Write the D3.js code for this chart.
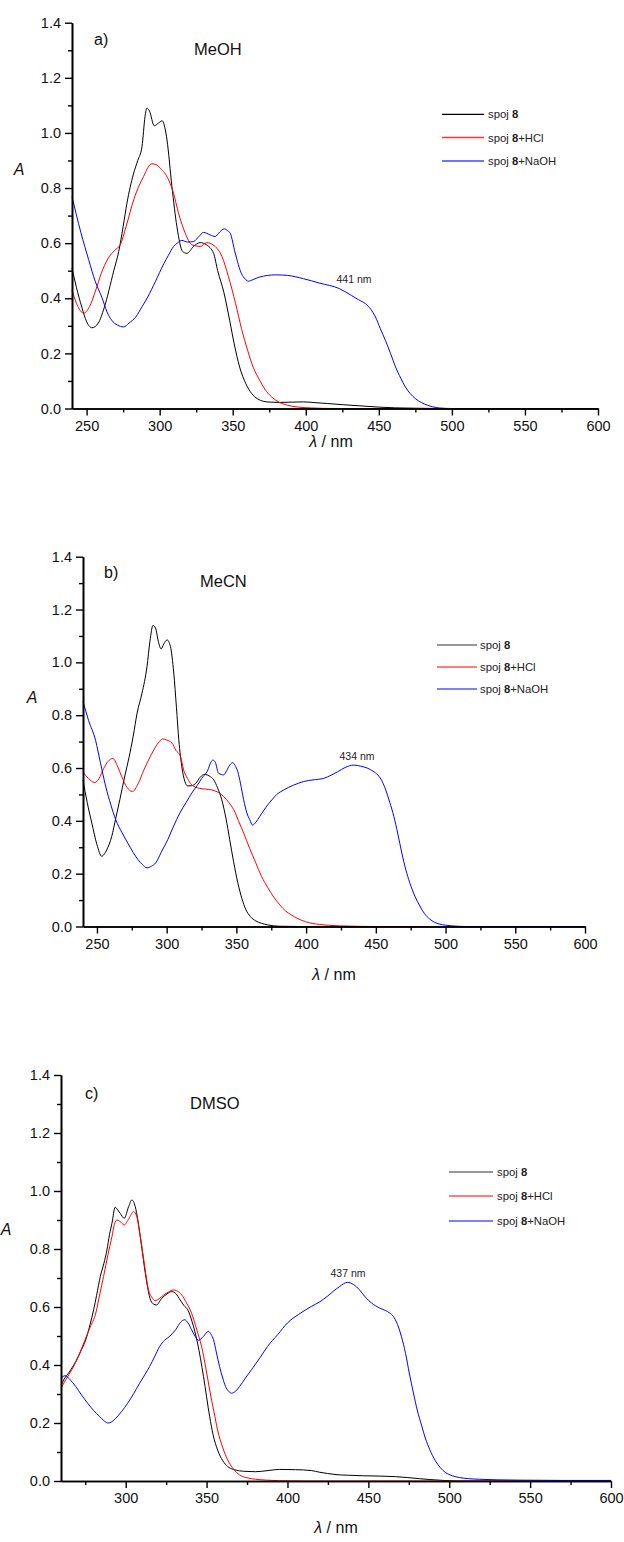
<!DOCTYPE html>
<html>
<head>
<meta charset="utf-8">
<script src="https://cdn.jsdelivr.net/npm/d3@7"></script>
<style>
  body { margin: 0; background: #fff; }
  svg { display: block; font-family: "Liberation Sans", Arial, sans-serif; }
</style>
</head>
<body>
<svg id="chart" width="624" height="1542"></svg>
<script>
// ---------- DATA ----------
const seriesNames = ["spoj 8", "spoj 8+HCl", "spoj 8+NaOH"];
const panelLetters = ["a)", "b)", "c)"];
const solvents = ["MeOH", "MeCN", "DMSO"];
const peakLabels = ["441 nm", "434 nm", "437 nm"];
const xTicksAB = [250, 300, 350, 400, 450, 500, 550, 600];
const xTicksC = [300, 350, 400, 450, 500, 550, 600];
const yTicks = [0.0, 0.2, 0.4, 0.6, 0.8, 1.0, 1.2, 1.4];

// a) MeOH  [wavelength nm, absorbance]
const meohNeutral = [[240,0.51],[243,0.44],[246.7,0.368],[250,0.315],[253.7,0.293],[258,0.31],[262,0.365],[268.6,0.5],[272,0.57],[275,0.66],[277.6,0.745],[282,0.85],[285,0.9],[287.9,0.95],[290,1.06],[291.3,1.09],[293,1.08],[296.3,1.026],[299,1.035],[301.8,1.044],[303.5,1.02],[305,0.975],[308.4,0.805],[311.8,0.66],[315.7,0.57],[318.6,0.563],[323.2,0.588],[327.7,0.602],[332,0.594],[336.9,0.563],[339.7,0.5],[344,0.42],[347.9,0.32],[351,0.235],[354.7,0.151],[359,0.09],[363,0.054],[367,0.035],[371,0.026],[376,0.023],[382,0.022],[390,0.023],[398.5,0.024],[407,0.021],[415,0.018],[425,0.014],[437,0.0097],[450,0.005],[461,0.0024],[475,0.001],[490,0],[600,0]];
const meohHCl = [[240,0.429],[244,0.37],[248,0.346],[252,0.37],[256.3,0.43],[260,0.49],[264.5,0.543],[269.6,0.576],[273,0.594],[277,0.66],[282.2,0.757],[286,0.81],[289,0.842],[292,0.875],[294.7,0.888],[297.5,0.885],[300.4,0.872],[306.1,0.83],[309.5,0.781],[312.9,0.709],[317.5,0.636],[322,0.594],[325,0.59],[327.7,0.588],[332.3,0.602],[335,0.598],[338,0.588],[342.6,0.552],[347,0.48],[352,0.38],[356,0.29],[360.2,0.211],[364,0.15],[368.4,0.103],[372,0.07],[376.6,0.042],[381,0.025],[387.5,0.012],[395,0.005],[404,0.002],[420,0],[600,0]];
const meohNaOH = [[240,0.769],[246,0.64],[251.4,0.54],[256,0.46],[260.4,0.404],[264,0.35],[267.2,0.32],[271,0.303],[275.4,0.296],[279,0.31],[283.6,0.332],[288,0.37],[291.8,0.404],[297,0.46],[302.8,0.525],[306,0.556],[309.5,0.588],[312,0.6],[315.2,0.61],[319,0.604],[323.2,0.606],[327,0.625],[330,0.639],[334.6,0.63],[338,0.624],[341,0.64],[344.2,0.652],[346.5,0.645],[348.3,0.636],[351.7,0.564],[356,0.489],[358.5,0.47],[360.7,0.462],[364,0.468],[368.4,0.477],[374,0.483],[379.3,0.485],[387.5,0.483],[398.5,0.471],[409.4,0.455],[423,0.435],[431.3,0.41],[436,0.395],[440.9,0.38],[444.5,0.36],[447.7,0.332],[451,0.29],[454.5,0.247],[458,0.2],[461.4,0.151],[465,0.11],[468.2,0.078],[471.5,0.054],[475,0.036],[479,0.022],[483.2,0.012],[487,0.006],[491.4,0.002],[500,0],[600,0]];

// b) MeCN
const mecnNeutral = [[240,0.555],[243,0.47],[246.3,0.392],[250,0.31],[253.4,0.266],[257,0.29],[260.6,0.341],[263.5,0.41],[266.4,0.48],[270,0.57],[273,0.64],[276,0.72],[278.8,0.808],[282.3,0.883],[285.9,0.984],[288,1.08],[290.2,1.14],[292,1.13],[294,1.08],[296,1.051],[298,1.07],[300.3,1.085],[302.7,1.06],[305.1,0.959],[307,0.83],[308.7,0.707],[311,0.6],[313,0.55],[315.1,0.532],[318,0.533],[320.9,0.542],[324,0.565],[327.2,0.576],[330.5,0.57],[333.8,0.555],[336.5,0.525],[339.5,0.48],[342.5,0.41],[345.2,0.329],[348,0.245],[351,0.166],[354,0.105],[356.7,0.065],[360,0.038],[363.9,0.021],[368,0.012],[372.5,0.006],[381,0.001],[395,0],[600,0]];
const mecnHCl = [[240,0.584],[244,0.56],[248.3,0.545],[251.5,0.56],[254.9,0.599],[258,0.625],[261.5,0.636],[264.5,0.61],[267.8,0.567],[271.5,0.527],[275.5,0.511],[279.5,0.54],[283.6,0.592],[287,0.63],[290.7,0.668],[294,0.695],[297.2,0.71],[300,0.706],[303.9,0.694],[306.5,0.668],[309.9,0.644],[312.2,0.592],[315,0.56],[318,0.536],[323.7,0.523],[328,0.52],[332.3,0.517],[337,0.508],[340.9,0.492],[344.5,0.47],[348.1,0.442],[351.5,0.4],[355.2,0.354],[359.5,0.296],[363.9,0.241],[368,0.19],[372.5,0.147],[377,0.11],[381.1,0.082],[385,0.06],[389.7,0.043],[394,0.03],[399.7,0.018],[409.8,0.0075],[424,0.0025],[450,0],[600,0]];
const mecnNaOH = [[240,0.852],[244,0.78],[249,0.705],[252.5,0.62],[256.3,0.53],[260,0.46],[263.5,0.404],[268,0.355],[272.1,0.316],[276,0.28],[279.3,0.254],[282.5,0.235],[285.9,0.222],[289,0.228],[292.2,0.241],[296,0.28],[300.8,0.329],[305,0.38],[309.4,0.429],[314,0.47],[318,0.505],[322,0.535],[325.2,0.561],[329.5,0.592],[331.5,0.62],[333.2,0.63],[335,0.62],[337.2,0.58],[340.9,0.574],[343,0.59],[345.2,0.611],[347.5,0.62],[349,0.61],[351,0.586],[353,0.54],[355.2,0.48],[357.5,0.43],[359.6,0.404],[361.6,0.384],[364,0.395],[366.8,0.417],[371,0.45],[375.4,0.479],[379,0.5],[384,0.517],[391,0.535],[398.3,0.549],[405,0.555],[412.7,0.561],[418,0.573],[422.7,0.586],[428,0.602],[434.2,0.611],[439,0.607],[444.2,0.599],[448,0.588],[451.4,0.574],[454.5,0.55],[457.1,0.517],[460,0.47],[462.9,0.417],[465.8,0.35],[468.6,0.279],[471.5,0.215],[474.3,0.166],[478,0.115],[481.5,0.078],[485,0.048],[488.7,0.028],[492,0.016],[495.8,0.009],[500,0.005],[504.4,0.0025],[515,0],[600,0]];

// c) DMSO
const dmsoNeutral = [[260,0.33],[261.7,0.349],[265,0.375],[269.1,0.412],[272,0.445],[275.3,0.487],[278,0.54],[280.2,0.591],[282,0.64],[284.3,0.705],[286.5,0.75],[288.4,0.797],[290,0.85],[291.5,0.889],[293.5,0.944],[295,0.935],[296.6,0.923],[299.1,0.906],[301.8,0.946],[303.8,0.969],[305.9,0.946],[307.5,0.9],[309,0.843],[311,0.76],[313.1,0.682],[315,0.63],[317.2,0.61],[319,0.607],[322.3,0.63],[325.5,0.645],[328.5,0.653],[331,0.646],[333.7,0.624],[336,0.605],[338.3,0.591],[341,0.55],[344.4,0.476],[348.1,0.36],[351.9,0.222],[354,0.16],[356.8,0.107],[360,0.07],[363,0.05],[366.5,0.04],[370.4,0.035],[375,0.033],[380.2,0.032],[388,0.036],[395.1,0.04],[405,0.039],[414.8,0.036],[420,0.03],[424.7,0.026],[430,0.022],[437,0.02],[447,0.018],[456.8,0.017],[466.7,0.015],[474,0.012],[481.5,0.008],[488,0.005],[496.3,0.002],[505,0],[600,0]];
const dmsoHCl = [[260,0.32],[263,0.35],[266.7,0.384],[270,0.42],[274.1,0.476],[278,0.53],[281.5,0.579],[284,0.645],[286.3,0.705],[289,0.78],[291.5,0.843],[293,0.885],[294.6,0.9],[296.5,0.895],[299.1,0.883],[302,0.905],[304.9,0.929],[306.9,0.911],[308.5,0.86],[310,0.808],[312,0.73],[314.1,0.659],[316,0.635],[318.2,0.622],[320.5,0.628],[323.4,0.641],[326.5,0.652],[329.5,0.659],[331.5,0.656],[334.7,0.641],[337.5,0.615],[340.7,0.579],[344,0.52],[346.9,0.464],[349.5,0.39],[351.9,0.314],[354.5,0.24],[356.8,0.176],[360,0.115],[363,0.073],[366.5,0.042],[370.4,0.021],[375,0.011],[380.2,0.006],[387,0.003],[395,0.001],[410,0],[600,0]];
const dmsoNaOH = [[260,0.355],[262.5,0.363],[265.5,0.35],[269.1,0.326],[272.5,0.298],[276.5,0.268],[280,0.244],[284,0.222],[286.5,0.208],[288.9,0.2],[291,0.203],[293.8,0.216],[297.5,0.24],[301.2,0.268],[305,0.302],[308.6,0.337],[312,0.368],[314.8,0.395],[318,0.43],[321,0.464],[324,0.485],[327.2,0.499],[330.9,0.522],[334,0.548],[336.5,0.556],[338.5,0.545],[340.7,0.522],[342.8,0.5],[344.9,0.485],[346.5,0.49],[348.1,0.499],[351.1,0.516],[352.8,0.505],[354.3,0.487],[356,0.445],[358,0.395],[360,0.355],[361.7,0.326],[363.5,0.31],[365.4,0.303],[368,0.31],[370.4,0.326],[374,0.355],[377.8,0.384],[383,0.425],[387.7,0.464],[394,0.505],[400,0.545],[407,0.575],[414.8,0.602],[420,0.618],[424.7,0.637],[428.5,0.655],[432.1,0.67],[437,0.685],[441,0.677],[444.4,0.66],[448,0.635],[451.9,0.614],[456.8,0.597],[460.5,0.588],[463,0.58],[465.4,0.568],[468,0.54],[470.4,0.499],[473,0.44],[475.3,0.372],[478,0.3],[480.2,0.245],[483,0.19],[485.2,0.148],[488,0.108],[491.4,0.07],[494.5,0.046],[497.5,0.03],[502,0.018],[506.2,0.012],[512,0.008],[518.5,0.006],[530,0.004],[543.2,0.003],[570,0.002],[600,0.002]];

// ---------- LAYOUT ----------
const colors = ["#000000", "#ff0000", "#0000ff"];
const legendColors = ["#000000", "#ff3333", "#7373ff"];
const panels = [
  { series: [meohNeutral, meohHCl, meohNaOH], xDom: [240, 600], xTicks: xTicksAB, xr: [72, 598], yr: [408.5, 22.7],
    letterPos: [94, 45], solventPos: [194, 55], legend: { x1: 442, x2: 484, tx: 488, ys: [114.3, 137.5, 161] },
    peakPos: [354, 283], yTitle: [19, 175], xTitle: [331, 447], legendColors: legendColors, legendW: [1.3, 1.3, 2.2] },
  { series: [mecnNeutral, mecnHCl, mecnNaOH], xDom: [240, 600], xTicks: xTicksAB, xr: [83, 585], yr: [926.5, 556.7],
    letterPos: [104, 578], solventPos: [200, 587], legend: { x1: 437, x2: 477, tx: 480, ys: [645, 667, 689] },
    peakPos: [357, 760], yTitle: [32, 703], xTitle: [334, 980], legendColors: ["#333333", "#ff0000", "#0000ff"], legendW: [1.2, 1.2, 1.2] },
  { series: [dmsoNeutral, dmsoHCl, dmsoNaOH], xDom: [260, 600], xTicks: xTicksC, xr: [61, 611], yr: [1481, 1075],
    letterPos: [85, 1099], solventPos: [190, 1109], legend: { x1: 449, x2: 493, tx: 497, ys: [1172, 1196, 1221] },
    peakPos: [348, 1277], yTitle: [6, 1235], xTitle: [336, 1533], legendColors: ["#333333", "#ff0000", "#0000ff"], legendW: [1.2, 1.2, 1.2] }
];

const svg = d3.select("#chart");

panels.forEach((p, i) => {
  const x = d3.scaleLinear().domain(p.xDom).range(p.xr);
  const y = d3.scaleLinear().domain([0, 1.4]).range(p.yr);
  const g = svg.append("g");

  // minor ticks
  const xMinor = d3.range(275, 600, 50).filter(v => v > p.xDom[0]);
  const yMinor = d3.range(0.1, 1.4, 0.2);

  const xAxisMinor = d3.axisBottom(x).tickValues(xMinor).tickSize(4).tickFormat("").tickSizeOuter(0);
  const yAxisMinor = d3.axisLeft(y).tickValues(yMinor).tickSize(4).tickFormat("").tickSizeOuter(0);
  const xAxis = d3.axisBottom(x).tickValues(p.xTicks.filter(v => v >= p.xDom[0])).tickSize(7).tickPadding(5).tickFormat(d3.format("d")).tickSizeOuter(0);
  const yAxis = d3.axisLeft(y).tickValues(yTicks).tickSize(7).tickPadding(4).tickFormat(d3.format(".1f")).tickSizeOuter(0);

  // curves
  const line = d3.line().x(d => x(d[0])).y(d => y(d[1])).curve(d3.curveMonotoneX);
  p.series.forEach((s, k) => {
    g.append("path").datum(s).attr("d", line)
      .attr("fill", "none").attr("stroke", colors[k]).attr("stroke-width", 1.0);
  });

  const gx = g.append("g").attr("transform", `translate(0,${p.yr[0]})`);
  gx.call(xAxisMinor);
  const gx2 = g.append("g").attr("transform", `translate(0,${p.yr[0]})`).call(xAxis);
  const gy = g.append("g").attr("transform", `translate(${p.xr[0]},0)`).call(yAxisMinor);
  const gy2 = g.append("g").attr("transform", `translate(${p.xr[0]},0)`).call(yAxis);
  [gx, gx2, gy, gy2].forEach(a => {
    a.selectAll("path.domain").attr("stroke", "#000").attr("stroke-width", 1.6);
    a.selectAll(".tick line").attr("stroke", "#000").attr("stroke-width", 1.4);
    a.selectAll(".tick text").attr("fill", "#111").style("font-size", "14.5px")
      .style("font-family", "'Liberation Sans', Arial, sans-serif");
  });

  // panel letter & solvent
  g.append("text").attr("x", p.letterPos[0]).attr("y", p.letterPos[1]).text(panelLetters[i])
    .style("font-size", "16px").attr("fill", "#111");
  g.append("text").attr("x", p.solventPos[0]).attr("y", p.solventPos[1]).text(solvents[i])
    .style("font-size", "16.5px").attr("fill", "#111");

  // axis titles
  g.append("text").attr("x", p.yTitle[0]).attr("y", p.yTitle[1]).attr("text-anchor", "middle")
    .style("font-size", "16px").style("font-style", "italic").attr("fill", "#111").text("A");
  const xt = g.append("text").attr("x", p.xTitle[0]).attr("y", p.xTitle[1]).attr("text-anchor", "middle")
    .style("font-size", "16px").attr("fill", "#111");
  xt.append("tspan").style("font-style", "italic").text("λ");
  xt.append("tspan").text(" / nm");

  // peak annotation
  g.append("text").attr("x", p.peakPos[0]).attr("y", p.peakPos[1]).attr("text-anchor", "middle")
    .style("font-size", "10.5px").attr("fill", "#222").text(peakLabels[i]);

  // legend
  seriesNames.forEach((name, k) => {
    const ly = p.legend.ys[k];
    g.append("line").attr("x1", p.legend.x1).attr("x2", p.legend.x2).attr("y1", ly).attr("y2", ly)
      .attr("stroke", p.legendColors[k]).attr("stroke-width", p.legendW[k]);
    const t = g.append("text").attr("x", p.legend.tx).attr("y", ly + 4)
      .style("font-size", "11.3px").attr("fill", "#222");
    const parts = name.split(" 8");
    t.append("tspan").text(parts[0] + " ");
    t.append("tspan").style("font-weight", "bold").text("8");
    if (parts[1]) t.append("tspan").text(parts[1]);
  });
});
</script>
</body>
</html>
